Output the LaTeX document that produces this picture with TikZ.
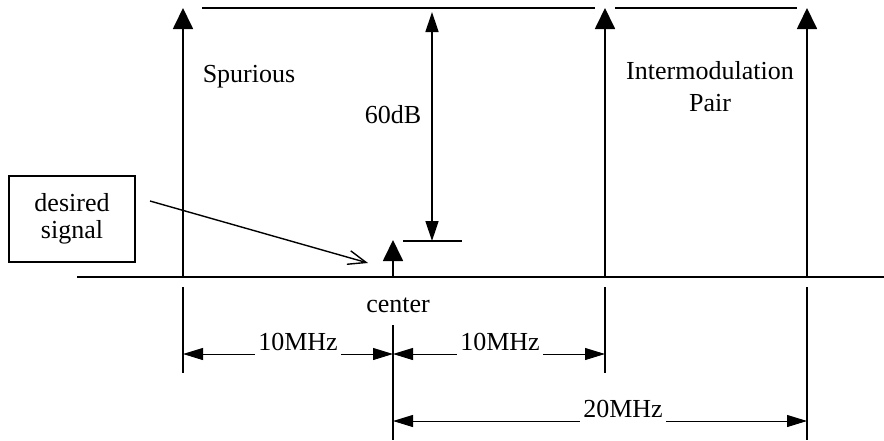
\documentclass[tikz,border=0pt]{standalone}
\usepackage{fontspec}
\setmainfont{Liberation Serif}
\usetikzlibrary{arrows.meta, positioning}

\begin{document}
\begin{tikzpicture}[x=1pt, y=-1pt,
    bigtip/.style={-{Triangle[length=21pt, width=20pt]}, line width=1.8pt},
    dbtip/.style={{Triangle[length=20pt, width=13pt]}-{Triangle[length=20pt, width=13pt]}, line width=1.4pt},
    dimline/.style={{Triangle[length=20pt, width=12pt]}-{Triangle[length=20pt, width=12pt]}, line width=1pt},
    txt/.style={font=\fontsize{26}{30}\selectfont, inner sep=0pt},
    dimtxt/.style={txt, anchor=base, fill=white, inner xsep=3pt, text depth=6pt}]
    \useasboundingbox (0,0) rectangle (884,440);

    % 1. Trục tần số
    \coordinate (axl) at (77,277);
    \coordinate (axr) at (884,277);
    \draw[line width=1.8pt] (axl) -- (axr);

    % 2. Các vạch phổ
    \foreach \n/\x in {sp/183, ima/605, imb/807} {
        \coordinate (\n) at (\x,277);
        \coordinate (\n top) at (\x,8);
        \draw[bigtip] (\n) -- (\n top);
    }
    \coordinate (ctr) at (393,277);
    \coordinate (ctr top) at (393,240);
    \draw[bigtip] (ctr) -- (ctr top);

    % 3. Mức tham chiếu 60dB
    \draw[line width=1.4pt] (202,8) -- (595,8);
    \draw[line width=1.4pt] (615,8) -- (797,8);
    \draw[line width=1.4pt] (403,241) -- (462,241);
    \coordinate (db top) at (432,12);
    \coordinate (db bot) at (432,241);
    \draw[dbtip] (db top) -- (db bot);

    % 4. Nhãn
    \node[txt, anchor=base] (spur) at (249,82) {Spurious};
    \node[txt, anchor=base] (db) at (393,123) {60dB};
    \node[txt, align=center, font=\fontsize{26}{32}\selectfont] (imp) at (710,87) {Intermodulation\\Pair};
    \node[txt, anchor=base] (cname) at (398,312) {center};

    % 5. Hộp tín hiệu mong muốn
    \node[txt, draw, line width=1.4pt, align=center, minimum width=126pt, minimum height=86pt,
          font=\fontsize{26}{27}\selectfont] (desired) at (72,219) {desired\\signal};
    \coordinate (dtail) at (150,201);
    \coordinate (dhead) at (368,263);
    \draw[-{Straight Barb[length=18pt, width=14pt]}, line width=1.4pt] (dtail) -- (dhead);

    % 6. Đường gióng và khoảng cách
    \foreach \x/\a/\b in {183/287/373, 605/287/373, 393/325/440, 807/287/440} {
        \draw[line width=1.8pt] (\x,\a) -- (\x,\b);
    }
    \coordinate (d1) at (183,354);
    \coordinate (d2) at (393,354);
    \coordinate (d3) at (605,354);
    \coordinate (e1) at (393,421);
    \coordinate (e2) at (807,421);
    \draw[dimline] (d1) -- (d2);
    \draw[dimline] (d2) -- (d3);
    \draw[dimline] (e1) -- (e2);
    \node[dimtxt] (f1) at (298,350) {10MHz};
    \node[dimtxt] (f2) at (500,350) {10MHz};
    \node[dimtxt] (f3) at (623,417) {20MHz};
\end{tikzpicture}
\end{document}
